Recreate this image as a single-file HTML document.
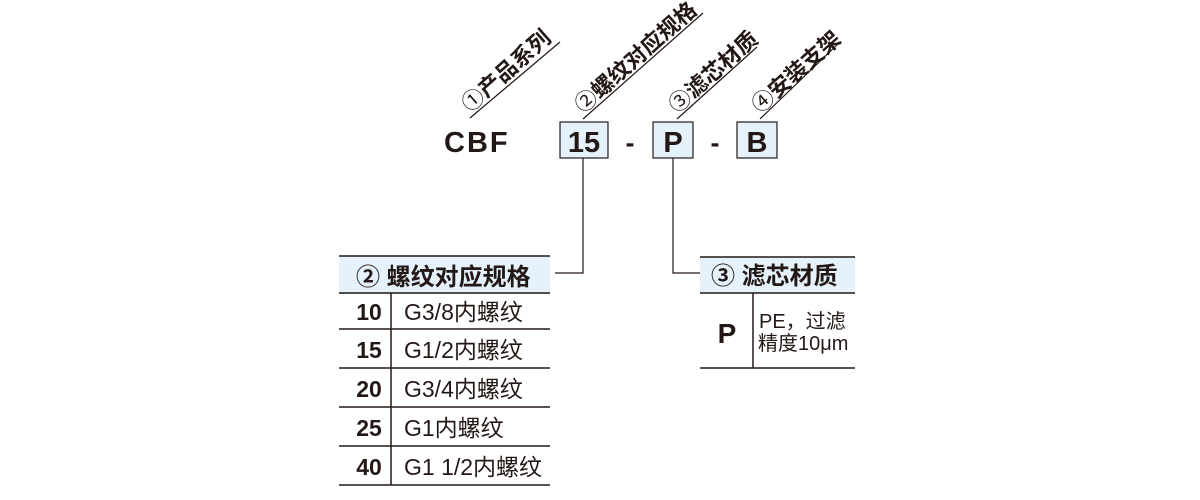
<!DOCTYPE html>
<html><head><meta charset="utf-8"><style>
html,body{margin:0;padding:0;background:#fff}
svg{display:block}
text{font-family:"Liberation Sans","Noto Sans CJK SC",sans-serif;fill:#231815}
.b{font-weight:bold}
</style></head><body>
<svg width="1200" height="500" viewBox="0 0 1200 500" xmlns="http://www.w3.org/2000/svg">
<g stroke="#231815" stroke-width="1.2">
<line x1="470" y1="118" x2="560" y2="42"/>
<line x1="583" y1="119" x2="703" y2="13"/>
<line x1="677" y1="119" x2="757" y2="47"/>
<line x1="760" y1="119" x2="840" y2="42"/>
</g>
<g class="b" font-size="22">
<text transform="translate(470,113) rotate(-41.5)"><tspan font-weight="normal">①</tspan>产品系列</text>
<text transform="translate(583,114) rotate(-41.5)"><tspan font-weight="normal">②</tspan>螺纹对应规格</text>
<text transform="translate(677,114) rotate(-41.5)"><tspan font-weight="normal">③</tspan>滤芯材质</text>
<text transform="translate(760,114) rotate(-41.5)"><tspan font-weight="normal">④</tspan>安装支架</text>
</g>
<text x="444" y="152" class="b" font-size="29" letter-spacing="2">CBF</text>
<g fill="#e5f1fb" stroke="#231815" stroke-width="1.2">
<rect x="560" y="122" width="48" height="36"/>
<rect x="653" y="122" width="40" height="36"/>
<rect x="737" y="122" width="40" height="36"/>
</g>
<text x="584" y="152" class="b" font-size="29" text-anchor="middle">15</text>
<text x="673" y="152" class="b" font-size="29" text-anchor="middle">P</text>
<text x="757" y="152" class="b" font-size="29" text-anchor="middle">B</text>
<text x="630" y="152" class="b" font-size="27" text-anchor="middle">-</text>
<text x="715" y="152" class="b" font-size="27" text-anchor="middle">-</text>
<g stroke="#231815" stroke-width="1.2" fill="none">
<polyline points="583,158 583,273 555,273"/>
<polyline points="673,158 673,273 700,273"/>
</g>
<rect x="339" y="256" width="211" height="38" fill="#e5f1fb"/>
<g stroke="#231815" stroke-width="1.5">
<line x1="339" y1="256" x2="550" y2="256"/>
<line x1="339" y1="293" x2="550" y2="293"/>
<line x1="339" y1="329" x2="550" y2="329"/>
<line x1="339" y1="368" x2="550" y2="368"/>
<line x1="339" y1="407" x2="550" y2="407"/>
<line x1="339" y1="446" x2="550" y2="446"/>
<line x1="339" y1="485" x2="550" y2="485"/>
<line x1="391" y1="293" x2="391" y2="485"/>
</g>
<text x="356" y="285" class="b" font-size="24">② 螺纹对应规格</text>
<g class="b" font-size="23" text-anchor="middle">
<text x="369" y="320">10</text>
<text x="369" y="358">15</text>
<text x="369" y="397">20</text>
<text x="369" y="436">25</text>
<text x="369" y="475">40</text>
</g>
<g font-size="23">
<text x="404" y="320">G3/8内螺纹</text>
<text x="404" y="358">G1/2内螺纹</text>
<text x="404" y="397">G3/4内螺纹</text>
<text x="404" y="436">G1内螺纹</text>
<text x="404" y="475">G1 1/2内螺纹</text>
</g>
<rect x="700" y="257" width="155" height="36" fill="#e5f1fb"/>
<g stroke="#231815" stroke-width="1.5">
<line x1="700" y1="257" x2="855" y2="257"/>
<line x1="700" y1="293" x2="855" y2="293"/>
<line x1="700" y1="368" x2="855" y2="368"/>
<line x1="753" y1="293" x2="753" y2="368"/>
</g>
<text x="711" y="284" class="b" font-size="24">③ 滤芯材质</text>
<text x="727" y="343" class="b" font-size="28" text-anchor="middle">P</text>
<text x="759" y="328" font-size="20">PE，过滤</text>
<text x="758" y="350" font-size="20">精度10μm</text>
</svg>
</body></html>
